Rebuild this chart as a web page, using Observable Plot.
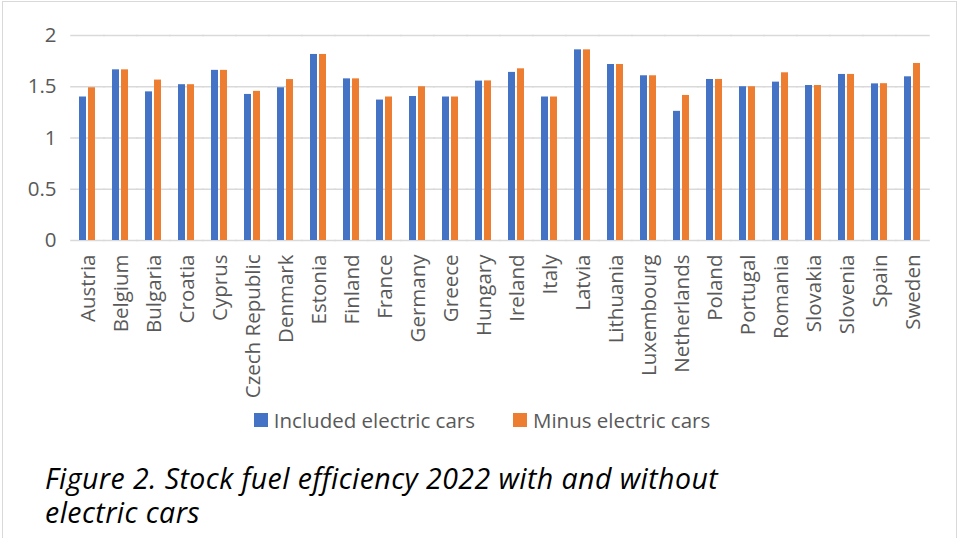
<!DOCTYPE html>
<html>
<head>
<meta charset="utf-8">
<script src="https://cdn.jsdelivr.net/npm/d3@7"></script>
<script src="https://cdn.jsdelivr.net/npm/@observablehq/plot@0.6"></script>
<style>
  html, body { margin: 0; padding: 0; background: #fff; }
  #page { position: relative; width: 963px; height: 538px; overflow: hidden; font-family: "Open Sans", sans-serif; }
  #frame { position: absolute; left: 2px; top: 1px; width: 955px; height: 600px; border: 1.5px solid #d9d9d9; box-sizing: border-box; }
  #chart { position: absolute; left: 0; top: 0; }
  #legend { position: absolute; left: 0; top: 406px; width: 963px; height: 28px; display: flex; justify-content: center; gap: 38px; padding-left: 1px; box-sizing: border-box; font-size: 20.5px; line-height: 28px; color: #595959; }
  .item { display: flex; align-items: center; gap: 6px; white-space: nowrap; }
  .swatch { width: 14px; height: 14px; display: inline-block; }
  #caption { position: absolute; left: 45px; top: 461px; width: 700px; font-size: 28.5px; letter-spacing: 0.45px; line-height: 34px; font-style: italic; color: #000; }
</style>
</head>
<body>
<div id="page">
  <div id="frame"></div>
  <div id="chart"></div>
  <div id="legend"></div>
  <div id="caption">Figure 2. Stock fuel efficiency 2022 with and without electric cars</div>
</div>
<script>
// Countries along the x axis
const countries = [
  "Austria", "Belgium", "Bulgaria", "Croatia", "Cyprus", "Czech Republic",
  "Denmark", "Estonia", "Finland", "France", "Germany", "Greece", "Hungary",
  "Ireland", "Italy", "Latvia", "Lithuania", "Luxembourg", "Netherlands",
  "Poland", "Portugal", "Romania", "Slovakia", "Slovenia", "Spain", "Sweden"
];

// Series names and colours
const seriesNames = ["Included electric cars", "Minus electric cars"];
const seriesColors = ["#4472C4", "#ED7D31"];

// Stock fuel efficiency 2022, with electric cars included
const included = [
  1.40, 1.665, 1.45, 1.52, 1.66, 1.425,
  1.49, 1.815, 1.577, 1.37, 1.405, 1.40, 1.555,
  1.64, 1.40, 1.86, 1.717, 1.607, 1.26,
  1.571, 1.50, 1.545, 1.512, 1.62, 1.528, 1.597
];

// Stock fuel efficiency 2022, electric cars removed
const minus = [
  1.49, 1.665, 1.565, 1.52, 1.66, 1.455,
  1.57, 1.815, 1.577, 1.40, 1.50, 1.40, 1.557,
  1.675, 1.40, 1.86, 1.717, 1.607, 1.415,
  1.571, 1.50, 1.636, 1.512, 1.62, 1.53, 1.727
];

// Y axis ticks
const yTicks = [0, 0.5, 1, 1.5, 2];

const rows = countries.flatMap((country, i) => [
  {country, series: seriesNames[0], value: included[i]},
  {country, series: seriesNames[1], value: minus[i]}
]);

// Gridlines are drawn in every country facet and stretched over the
// gaps between facets, so together they run across the whole frame.
const width = 963, marginLeft = 69, marginRight = 33;
const step = (width - marginLeft - marginRight) / countries.length;
const reach = -(step / 4 + 0.5);

const chart = Plot.plot({
  width,
  height: 405,
  marginTop: 35,
  marginLeft,
  marginRight,
  marginBottom: 165,
  style: {fontFamily: "Open Sans", fontSize: "20.5px", color: "#595959", background: "transparent", overflow: "visible"},
  fx: {domain: countries, paddingInner: 0.5, paddingOuter: 0.25, label: null, tickRotate: -90, tickSize: 0, tickPadding: 14},
  x: {domain: seriesNames, axis: null, paddingInner: 0.2, paddingOuter: 0},
  y: {domain: [0, 2], ticks: yTicks, tickFormat: d3.format(""), label: null, tickSize: 0, tickPadding: 23},
  color: {domain: seriesNames, range: seriesColors},
  marks: [
    Plot.ruleY(yTicks, {stroke: "#d9d9d9", strokeWidth: 1.5, insetLeft: reach, insetRight: reach}),
    Plot.barY(rows, {fx: "country", x: "series", y: "value", fill: "series"})
  ]
});
document.getElementById("chart").appendChild(chart);

// Legend built from the same series arrays
const legend = d3.select("#legend");
seriesNames.forEach((name, i) => {
  const item = legend.append("div").attr("class", "item");
  item.append("span").attr("class", "swatch").style("background", seriesColors[i]);
  item.append("span").text(name);
});
</script>
</body>
</html>
